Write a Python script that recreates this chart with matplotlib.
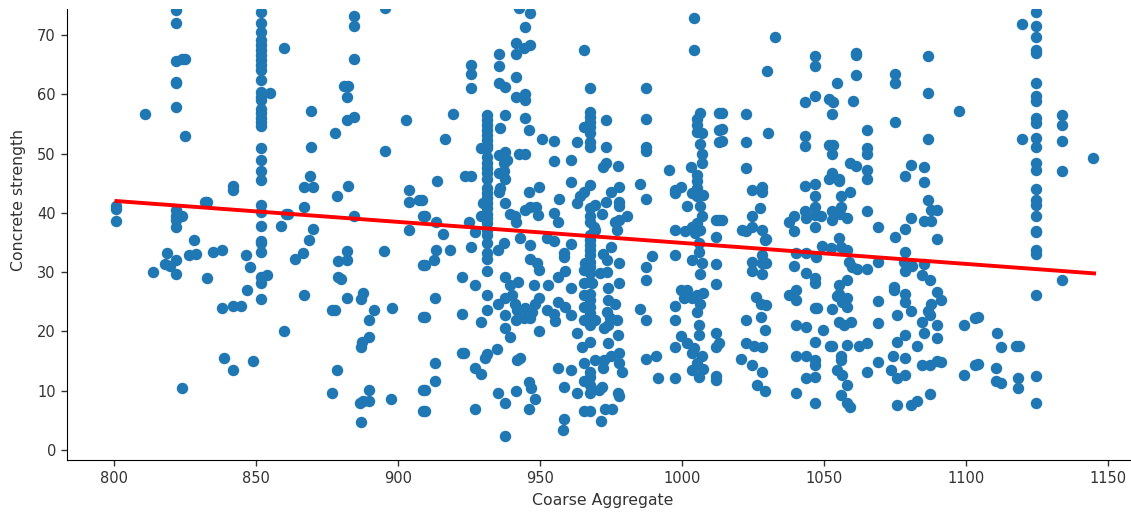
import matplotlib
matplotlib.use("Agg")
import matplotlib.pyplot as plt
import numpy as np

# values, (coarse aggregate, strength)
strength_801 = [41.2, 40.6, 38.6]
strength_822 = [74.2, 72.1, 65.6, 62.1, 61.9, 57.8, 40.5, 39.4, 38.8, 37.7, 32.0, 29.7]
strength_852 = [73.9, 72.1, 70.6, 69.2, 68.3, 67.5, 66.6, 65.8, 65.0, 64.1, 62.4, 60.4, 59.6, 59.0,
                57.6, 56.8, 56.0, 55.4, 54.7, 50.9, 49.0, 47.1, 45.6, 41.3, 40.2, 37.8, 35.2, 34.9,
                33.4, 29.2, 28.1, 25.4]
strength_931 = [56.5, 55.7, 54.8, 54.0, 53.1, 52.3, 51.5, 50.9, 49.5, 48.4, 47.5, 46.7, 45.8, 44.2,
                43.3, 42.5, 41.6, 40.8, 39.9, 39.1, 38.3, 37.1, 36.3, 34.9, 33.2, 32.3, 30.2, 26.1, 23.6]
strength_968 = [57.1, 56.2, 55.4, 54.5, 53.4, 52.0, 51.2, 61.0, 44.7, 40.8, 39.4, 38.5, 36.3, 35.4,
                34.6, 33.7, 32.9, 31.8, 30.9, 29.8, 28.4, 26.4, 25.3, 24.2, 23.1, 21.1, 18.3, 13.2,
                12.4, 11.0, 9.6, 6.5]
strength_1125 = [73.9, 71.6, 69.7, 67.5, 66.9, 61.9, 59.7, 58.8, 56.0, 55.1, 52.7, 51.1, 48.4, 47.3,
                 44.0, 42.2, 41.4, 39.4, 37.0, 36.8, 33.7, 33.0, 26.1, 12.5, 7.9]

left_upper = [(811, 56.7), (824, 66), (825, 66), (824, 39.5), (825, 53), (832, 41.8), (833, 41.8),
              (842, 44.6), (842, 43.8), (855, 60.3), (860, 67.9), (860.5, 39.9), (861.5, 39.9),
              (859, 37.8), (869.5, 57.2), (869.5, 51.1), (869, 46.2), (867, 44.3), (870, 44.3),
              (867, 41), (870, 37.3), (868.7, 35.4), (884.7, 73.3), (884.7, 71.5), (884.7, 65.9),
              (881, 61.4), (882.5, 61.4), (882, 59.6), (884.7, 56.2), (882, 55.7), (878, 53.5),
              (882.5, 44.6), (878.5, 42.8), (884.7, 39.5), (895.6, 74.5), (895.6, 50.5), (903, 55.7),
              (904, 43.9), (904, 41.9), (907.5, 42.2), (904, 37.2), (909, 39.4)]

left_lower = [(828.3, 35.4), (818.7, 33.3), (826.4, 32.9), (829, 33), (835, 33.4), (838, 33.7),
              (818, 31.4), (820, 31), (813.8, 30), (833, 29.1), (846.5, 32.9), (848, 30.8),
              (854, 29.5), (847, 27), (838, 24), (842, 24.3), (845, 24.3), (860, 20), (838.7, 15.6),
              (842, 13.5), (849, 15), (824, 10.5), (866.8, 33.3), (864, 32.3), (867, 26.1),
              (882, 33.5), (882, 32), (879, 31.9), (879, 29.2), (880, 28.8), (887.6, 26.5),
              (887, 25.4), (882, 25.6), (877, 23.7), (878, 23.7), (891.7, 23.7), (897.8, 24),
              (889.7, 21.9), (890, 19), (887.4, 18.3), (887, 17.3), (878.6, 13.5), (876.8, 9.7),
              (890, 10.2), (889.7, 8.3), (887.6, 8.3), (886.8, 7.9), (887.2, 4.8), (897.7, 8.6),
              (895, 33.6), (909, 31.2), (909, 22.4), (909, 10.2), (909, 6.5)]

middle_upper = [(908.5, 42.2), (909.7, 39.5), (913.5, 38.4), (915.8, 36.5), (913.8, 45.4), (916.7, 52.5),
                (919.6, 56.7), (924.9, 38.5), (927, 36.7), (923.7, 46.2), (925.9, 46.2), (925.9, 65),
                (925.9, 63.4), (925.9, 61), (929.4, 50.9), (930, 41.6), (929.4, 39.5), (935.5, 66.8),
                (935.5, 64.8), (935.5, 62), (937.6, 61.3), (937.8, 56.5), (935.8, 54.3), (935.5, 49.8),
                (937.8, 50.3), (937.2, 48.4), (938.6, 48.9), (935.5, 46.7), (937.5, 47), (937.8, 45.8),
                (935.5, 43.6), (936, 44.2), (937.8, 41.6), (939.4, 39.9), (941.3, 39.4), (941.7, 38.5),
                (941.7, 68.7), (941.7, 66.8), (941.7, 62.9), (941.7, 59.5), (944.6, 71.4), (946.4, 73.7),
                (942.5, 74.5), (944.3, 67.8), (946.4, 68.4), (944.6, 60), (944.6, 59), (944.6, 56),
                (946.3, 54), (942.5, 49.9), (944.6, 49.9), (946, 43.6), (949.6, 44.3), (944.9, 40.5),
                (946.6, 41), (948.7, 41), (949.2, 39.7), (950.7, 52.4), (954.9, 52.1), (954.9, 48.7),
                (956.6, 42.4), (961, 48.9), (961, 45.2), (954.9, 40), (956.4, 38.4), (963, 51.9),
                (963, 41.6), (965.4, 54.5), (965.4, 67.5), (965.4, 43.6), (964.2, 42.8), (969, 37.7),
                (969.5, 37.1), (969.5, 41.3), (973.4, 55.7), (973.4, 51.2), (972.2, 47.8), (973.4, 48.4),
                (977.4, 47.9), (977.7, 44.3), (975, 43.6), (973.4, 41.9), (978, 41.9), (978, 41.2),
                (971.9, 39.9), (980.7, 39.5), (978, 38.8), (976.6, 38.5), (977.1, 37.1), (987.5, 61),
                (987.5, 55.9), (987.5, 51.2), (987.5, 50.5), (985.4, 44.9), (987.5, 42.4), (995.3, 47.2),
                (1003.2, 47.8), (1004.4, 72.9), (1004.4, 67.5), (997.7, 43.9), (999.5, 44.4), (997.7, 43.3),
                (1006.5, 56.8), (1005.3, 55.8), (1005.3, 54.8), (1005.3, 53.7), (1007, 53.4), (1006.3, 51.7),
                (1006.9, 50), (1006.9, 48.4), (1005.3, 46.4), (1005.3, 45.3), (1005.3, 44.2), (1003.6, 43.3),
                (1005.3, 42.8), (1007.4, 43), (1006.3, 41.2), (1001.6, 41.1), (997.7, 37.2), (1001.2, 36.9),
                (1003.6, 37.7), (1005.3, 38.3), (1007, 39.4), (1004.7, 36.6), (1006.5, 37.1), (1011.8, 38.8),
                (1012.9, 38.8), (1013.2, 56.8), (1013.2, 54), (1013.2, 52), (1011.8, 36)]

middle_lower = [(913.5, 33.7), (912.8, 32), (909.7, 31.2), (918.5, 33.7), (925.9, 34.3), (922.6, 29.2),
                (927, 27.8), (913, 25.7), (922.6, 22.9), (909.7, 22.4), (929.4, 21.6), (935.1, 24.6),
                (935.1, 33.7), (937.2, 34.9), (937.8, 29.2), (939.6, 27.8), (942.2, 28.4), (937.8, 25.6),
                (940.2, 26.1), (941.3, 24.7), (941.9, 23.6), (937.8, 22.8), (944.9, 23.9), (944.3, 22.2),
                (946.6, 22.2), (947.2, 23.3), (948.4, 24.7), (949.6, 25.6), (947.8, 27.8), (949.6, 30.4),
                (949, 31.5), (946.4, 32.2), (952.7, 27.8), (941.7, 22), (937.8, 20.5), (939.6, 19.1),
                (949.6, 20), (922.6, 16.4), (923.2, 16.4), (931.4, 16.2), (930.8, 15.6), (934.9, 17),
                (941.9, 15.2), (942.9, 15.5), (913, 14.6), (927, 13.8), (929.4, 12.9), (913, 11.6),
                (909.7, 10.2), (935.1, 9.7), (941.7, 10), (946.3, 11.4), (946.9, 10.4), (948.4, 8.6),
                (937.8, 7.9), (946.3, 6.9), (927, 7), (909.7, 6.5), (937.8, 2.4), (943.1, 35.7),
                (946.6, 34.6), (952.5, 35.7), (954.9, 35.3), (961, 34.7), (958.4, 33.2), (958.4, 32.6),
                (959, 30.2), (956.4, 29.2), (961, 27.3), (956.4, 25), (959, 24.2), (961, 22.7),
                (952.5, 23.6), (954.9, 23), (955.2, 21.8), (963, 19.7), (956.4, 13.8), (961, 13.5),
                (958.4, 10.7), (963, 9.7), (958.6, 5.2), (958.1, 3.4), (966, 31.5), (965.4, 30.4),
                (965.4, 28.1), (968.3, 28.1), (965.4, 26.1), (965.4, 24.2), (965.4, 22), (969.5, 22),
                (964.8, 17.3), (969.5, 15.2), (965.4, 14.6), (965.4, 11.7), (970.7, 10.1), (971.9, 10.7),
                (965.4, 6.5), (971.6, 4.9), (972.8, 6.9), (975.2, 6.9), (977.4, 9.7), (978, 9.1),
                (972.2, 33.1), (975, 34.2), (973.6, 32), (973.6, 30.1), (971.3, 29.8), (978, 31.6),
                (978, 28.1), (974, 27.3), (974, 25.3), (976.6, 24.6), (973.6, 23.3), (974.8, 22.2),
                (977.1, 21.9), (972.4, 20.5), (974, 21.1), (977.4, 19.4), (974, 18.1), (978, 16.3),
                (975, 15.9), (972.4, 15.2), (978, 14.6), (972.2, 13.8), (978.9, 13.2), (989.5, 32.7),
                (987.5, 30.8), (987.5, 28.6), (985.4, 23.8), (987.5, 21.9), (987.5, 15.4), (990.9, 15.8),
                (991.5, 12.2), (997.7, 12.2), (997.7, 32.9), (1005.9, 34.9), (1005.9, 33.4), (1003.6, 32),
                (1007.1, 31.6), (1006.3, 29.7), (1011.8, 31.3), (1011.8, 28), (999.5, 27), (1001.8, 27),
                (1000.6, 25.6), (997.7, 24.3), (1003.6, 25.6), (1005.3, 26.1), (1007.4, 26.5), (1006.5, 24.7),
                (1005.3, 23.3), (997.7, 21.9), (1005.9, 21.1), (1005.9, 19.4), (999.5, 19.2), (1001.6, 18.1),
                (997.7, 17.3), (1004.4, 17.2), (1003.6, 16.4), (1007.1, 15.8), (1005.3, 14.6), (1003.6, 13.5),
                (1007.4, 13.6), (1005.9, 12.4), (1011.8, 19.7), (1011.8, 17.3), (1013.2, 18), (1011.8, 12.5),
                (1011.8, 11.8)]

right_upper = [(1032.6, 69.7), (1029.8, 64), (1046.8, 66.5), (1046.8, 64.8), (1061.4, 67), (1061.4, 66.6),
               (1061.4, 63.2), (1054.7, 61.9), (1046.8, 59.7), (1043.3, 58.7), (1051.7, 59.2), (1053.2, 58.7),
               (1052.9, 56.7), (1060.3, 58.9), (1075, 63.5), (1075, 61.9), (1086.4, 66.5), (1086.4, 60.3),
               (1097.5, 57.2), (1075, 55.4), (1086.4, 52.4), (1065.2, 54), (1119.6, 71.9), (1119.6, 52.4),
               (1133.7, 56.5), (1133.7, 54.8), (1133.7, 52.1), (1133.7, 47), (1144.5, 49.2), (1014.2, 56.8),
               (1022.4, 56.7), (1022.4, 51.9), (1014.2, 54.1), (1014.2, 52.1), (1030.4, 53.5), (1022.4, 47.5),
               (1028.3, 44.4), (1028.3, 43.5), (1024.8, 43.8), (1027.5, 40.8), (1024.8, 39.4), (1014.2, 38.8),
               (1021.2, 37.2), (1022.4, 37), (1024.8, 37.7), (1028.3, 37.1), (1029.4, 35.6), (1043.3, 53),
               (1043.3, 51.3), (1051.7, 51.5), (1053.2, 51.5), (1052.9, 50), (1059, 48.5), (1061.4, 47.9),
               (1065.2, 50.9), (1065.2, 49.9), (1065.2, 47.2), (1065.2, 45.7), (1080.5, 48.1), (1078.4, 46.2),
               (1085.2, 47.8), (1085.2, 45.2), (1052.9, 46.8), (1051.7, 45.8), (1055.3, 45.8), (1055.3, 45.3),
               (1043.3, 44.5), (1046.8, 44.9), (1046.8, 42.8), (1046.8, 41), (1059, 43.5), (1055.9, 42.8),
               (1055.9, 41), (1052.9, 40.4), (1043.3, 40.4), (1043.5, 39.1), (1039.4, 39.4), (1037.7, 38.5),
               (1039.4, 37), (1046.8, 39.7), (1048.8, 39.4), (1046.8, 37.7), (1052.9, 38.8), (1055.6, 39.9),
               (1058, 39.1), (1055.3, 35.7), (1065.2, 40.3), (1068.8, 37.6), (1080.5, 39.1), (1078.4, 37.3),
               (1075, 36), (1086.4, 42.2), (1087.5, 40.5), (1089.7, 40.5), (1085.2, 38.7), (1087.5, 38.7),
               (1089.7, 35.6)]

right_lower = [(1029.2, 35.4), (1078.4, 33.4), (1133.7, 28.7), (1049.4, 34.4), (1052.3, 34), (1055.9, 34.3),
               (1058.2, 33.7), (1058.8, 31.8), (1060, 30.9), (1040, 33.3), (1043.5, 33.2), (1047, 32.6),
               (1039.4, 31.1), (1043.5, 29.8), (1046.8, 29), (1046.8, 28.2), (1061.7, 30.5), (1065.2, 30.5),
               (1068.8, 31.8), (1078.2, 31.8), (1081.1, 31), (1078.4, 30.2), (1085.2, 31.3), (1084.6, 29.5),
               (1087.3, 28.7), (1024.8, 31.8), (1028.3, 32.9), (1028.3, 31.5), (1029.4, 31.6), (1024.8, 30.2),
               (1028.3, 29.7), (1026.2, 25.8), (1027.7, 24.7), (1029.4, 24.5), (1027.7, 22.4), (1022.4, 21.9),
               (1029.2, 20.2), (1022.4, 18.1), (1025.3, 17.6), (1028.3, 17.3), (1020.9, 15.4), (1024.8, 14.3),
               (1028.3, 13.2), (1026.3, 10.9), (1029.2, 10), (1040, 27), (1037.7, 26.1), (1040, 25.3),
               (1046.8, 24), (1047.6, 24), (1040, 21.1), (1043.5, 20.8), (1049.6, 20.2), (1046.8, 18.3),
               (1040, 15.8), (1043.5, 15.8), (1046.8, 15.2), (1046.8, 14.3), (1043.5, 12.1), (1046.8, 12.4),
               (1040, 9.7), (1046.8, 8), (1058.2, 28.7), (1055.3, 27.8), (1055.3, 26.4), (1054.7, 25.9),
               (1058.2, 25.6), (1056.4, 25), (1058.2, 24.2), (1052.9, 23.8), (1055.3, 21.6), (1057, 21.1),
               (1059.4, 21.6), (1052, 17.5), (1052.9, 17.5), (1058, 17.8), (1062.3, 17.5), (1065.2, 18),
               (1055.9, 15.8), (1055.9, 15.2), (1054.7, 13.5), (1056.4, 12.7), (1058, 10.9), (1055.9, 9.2),
               (1058, 8), (1059.1, 7.3), (1068.8, 25.2), (1068.8, 21.4), (1065.2, 13.2), (1068.8, 14.9),
               (1074.6, 27.5), (1074.6, 27), (1078.4, 26.3), (1078.4, 25), (1080.5, 23.5), (1075.6, 22.7),
               (1078.4, 19.4), (1075.6, 18.3), (1082.8, 17.5), (1074.4, 15.8), (1078.4, 15.5), (1073.5, 13.5),
               (1075.6, 12.1), (1078.4, 12.7), (1075.6, 7.6), (1080.5, 7.6), (1082.8, 8.2), (1087.3, 9.5),
               (1089.7, 26.6), (1091, 25.3), (1087.5, 24.7), (1086.4, 23.4), (1087.3, 22.7), (1084.6, 21.6),
               (1089.7, 21.1), (1085.2, 19.7), (1089.7, 18.9), (1084.6, 14.4), (1087.3, 14.4), (1089.9, 15.1),
               (1091, 14.8), (1099.3, 21.1), (1104, 22.4), (1103, 22.3), (1110.8, 19.7), (1112.2, 17.3),
               (1117.5, 17.5), (1118.6, 17.5), (1104, 14.5), (1103, 14.4), (1099.3, 12.7), (1110.4, 13.8),
               (1110.4, 11.7), (1112.2, 11.3), (1118.4, 12.2), (1118.4, 10.5)]

fit_x = [801, 1145]
fit_y = [42.0, 29.8]
x_ticks = [800, 850, 900, 950, 1000, 1050, 1100, 1150]
y_ticks = [0, 10, 20, 30, 40, 50, 60, 70]

columns = {801: strength_801, 822: strength_822, 852: strength_852, 931.5: strength_931,
           967.5: strength_968, 1124.5: strength_1125}
x = []
y = []
for pos, vals in columns.items():
    x += [pos] * len(vals)
    y += vals
for group in [left_upper, left_lower, middle_upper, middle_lower, right_upper, right_lower]:
    gx, gy = np.array(group).T
    x += list(gx)
    y += list(gy)

fig = plt.figure(figsize=(11.31, 5.12), dpi=100)
ax = fig.add_axes([67 / 1131, 52.5 / 512, 1 - 67 / 1131, 450.5 / 512])
ax.scatter(x, y, s=68, color="#1f77b4", linewidths=0)
ax.plot(fit_x, fit_y, color="red", linewidth=2.8)
ax.set_xlim(783.6, 1158)
ax.set_ylim(-1.6, 74.4)
ax.set_xticks(x_ticks)
ax.set_yticks(y_ticks)
ax.tick_params(labelsize=10.5, labelcolor="#333333", color="#333333", width=1, length=4.5)
ax.set_xlabel("Coarse Aggregate", fontsize=11.3, color="#333333")
ax.set_ylabel("Concrete strength", fontsize=11.3, color="#333333")
# the original is cropped at the top, so the y label sits above the middle of the axis
ax.xaxis.set_label_coords(0.503, -0.075)
ax.yaxis.set_label_coords(-0.0385, 0.576)
ax.spines["top"].set_visible(False)
ax.spines["right"].set_visible(False)
fig.savefig("out.png", dpi=100)
